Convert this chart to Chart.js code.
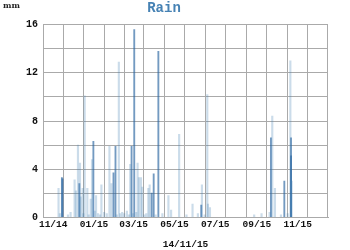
<!DOCTYPE html>
<html>
<head>
<meta charset="utf-8">
<script src="https://cdn.jsdelivr.net/npm/chart.js@4/dist/chart.umd.min.js"></script>
<style>
  html, body { margin: 0; padding: 0; background: #fff; }
  #wrap { position: relative; width: 350px; height: 250px; }
</style>
</head>
<body>
<div id="wrap"><canvas id="rainChart" width="350" height="250"></canvas></div>
<script>
// Days counted from 1 Nov 2014
const monthStarts = [0, 30, 61, 92, 120, 151, 181, 212, 242, 273, 304, 334, 365, 395];
const monthLabels = ["11/14", "", "01/15", "", "03/15", "", "05/15", "", "07/15", "", "09/15", "", "11/15", ""];
const yTicks = [0, 4, 8, 12, 16];

// light (single reading) bars
const lightDays = [8, 32, 34, 37, 40, 41, 44, 47, 51, 56, 58, 64, 72, 84, 87, 98, 100, 115, 126, 128, 131, 133, 142, 144, 172, 176, 188, 208, 222, 230, 231, 234, 311, 327, 331, 354, 356];
const lightVals = [2.4, 3.1, 2.2, 6.0, 4.5, 1.7, 2.4, 10.1, 2.4, 1.5, 4.8, 1.8, 2.7, 5.9, 2.8, 12.9, 0.3, 4.4, 4.5, 3.3, 3.3, 2.5, 2.4, 2.7, 1.8, 0.6, 6.9, 1.1, 2.7, 10.2, 1.1, 0.8, 0.3, 8.4, 2.4, 13.0, 3.0];

// small drizzle readings near the baseline
const drizzleDays = [10, 22, 26, 45, 53, 62, 67, 70, 76, 80, 95, 103, 106, 110, 113, 119, 124, 136, 139, 153, 163, 199, 216, 226, 300, 323, 340, 350];
const drizzleVals = [0.3, 0.2, 0.4, 0.3, 0.2, 0.5, 0.3, 0.2, 0.4, 0.3, 0.2, 0.4, 0.3, 0.5, 0.2, 0.3, 0.4, 0.2, 0.3, 0.2, 0.3, 0.2, 0.3, 0.2, 0.2, 0.4, 0.2, 0.3];

// darker bars
const darkDays = [13, 14, 39, 60, 90, 93, 117, 121, 147, 150, 157, 221, 325, 345, 355, 355];
const darkVals = [3.3, 3.2, 2.8, 6.3, 3.7, 5.9, 5.9, 15.6, 2.0, 3.6, 13.8, 1.0, 6.6, 3.0, 6.6, 5.1];

const gridColor = "#aaaaaa";
const monoBold = (size) => ({ family: "'Liberation Mono', 'DejaVu Sans Mono', monospace", size: size, weight: "bold" });
const toPoints = (days, vals) => days.map((d, i) => ({ x: d, y: vals[i] }));

// "mm" unit label in the top left corner
const unitLabel = {
  id: "unitLabel",
  afterDraw(chart) {
    const ctx = chart.ctx;
    ctx.save();
    ctx.font = "bold 8px 'DejaVu Serif', serif";
    ctx.fillStyle = "#222";
    ctx.textBaseline = "middle";
    ctx.fillText("mm", 3, 6);
    ctx.restore();
  },
};

const ctx = document.getElementById("rainChart").getContext("2d");
new Chart(ctx, {
  type: "bar",
  data: {
    datasets: [
      {
        label: "Rain",
        data: toPoints(lightDays, lightVals).concat(toPoints(drizzleDays, drizzleVals)),
        backgroundColor: "rgba(70, 130, 180, 0.28)",
        barThickness: 1.5,
        grouped: false,
      },
      {
        label: "Rain (dark)",
        data: toPoints(darkDays, darkVals),
        backgroundColor: "rgba(40, 100, 160, 0.65)",
        barThickness: 1.2,
        grouped: false,
      },
    ],
  },
  options: {
    responsive: false,
    animation: false,
    layout: { padding: { left: 0, right: 22, top: 0, bottom: 0 } },
    plugins: {
      legend: { display: false },
      tooltip: { enabled: false },
      title: {
        display: true,
        text: "Rain",
        color: "#4682b4",
        font: monoBold(14),
        padding: { top: 0, bottom: 8 },
      },
    },
    scales: {
      x: {
        type: "linear",
        min: 0,
        max: 395,
        afterBuildTicks: (axis) => {
          axis.ticks = monthStarts.map((v) => ({ value: v }));
        },
        ticks: {
          autoSkip: false,
          maxRotation: 0,
          color: "#111",
          font: monoBold(9.5),
          padding: 2,
          callback: (value, index) => monthLabels[index],
        },
        grid: { color: gridColor, lineWidth: 1, drawTicks: false },
        border: { color: gridColor },
        title: {
          display: true,
          text: "14/11/15",
          color: "#111",
          font: monoBold(9.5),
          padding: { top: 6, bottom: 0 },
        },
      },
      y: {
        min: 0,
        max: 16,
        afterFit: (axis) => {
          axis.width = 43;
        },
        ticks: {
          stepSize: 2,
          color: "#111",
          font: monoBold(10),
          padding: 5,
          callback: (value) => (yTicks.includes(value) ? value : ""),
        },
        grid: { color: gridColor, lineWidth: 1, drawTicks: false },
        border: { color: gridColor },
      },
    },
  },
  plugins: [unitLabel],
});
</script>
</body>
</html>
